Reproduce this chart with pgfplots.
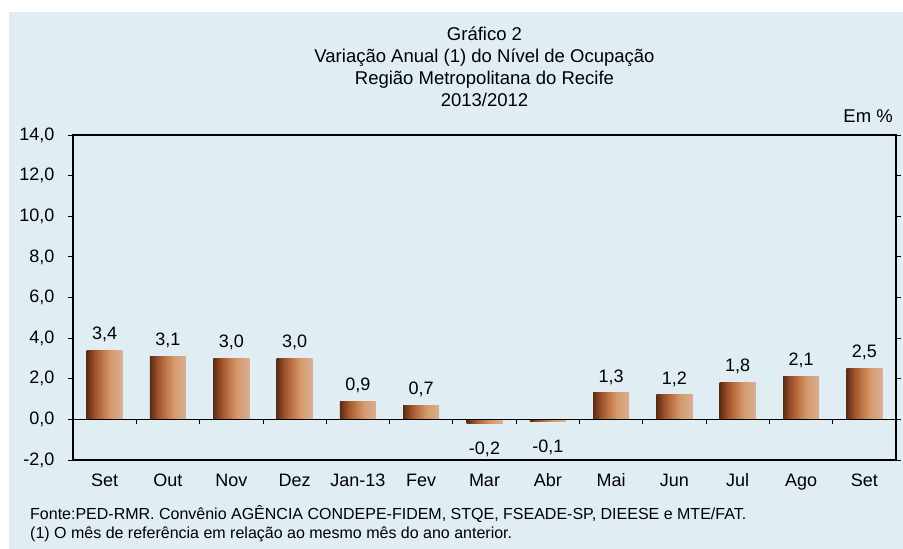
\documentclass[border=0pt]{standalone}
\usepackage{fontspec}
\setmainfont{Liberation Sans}
\usepackage{pgfplots}
\pgfplotsset{compat=1.18}
\definecolor{bg}{RGB}{224,237,243}
\definecolor{bA}{RGB}{90,44,20}
\definecolor{bB}{RGB}{160,82,42}
\definecolor{bC}{RGB}{192,118,72}
\definecolor{bD}{RGB}{212,155,108}
\definecolor{bE}{RGB}{218,174,150}
\pgfdeclarehorizontalshading{barshade}{100bp}{color(0bp)=(bA); color(25bp)=(bA); color(36bp)=(bB); color(47bp)=(bC); color(58bp)=(bD); color(75bp)=(bE); color(100bp)=(bE)}
\pgfplotsset{
  posbar/.style={draw=none, shade, shading=barshade, every node near coord/.append style={yshift=5pt}},
  negbar/.style={draw=none, shade, shading=barshade, every node near coord/.append style={yshift=-15pt}},
}
\begin{document}
\begin{tikzpicture}[x=1pt,y=1pt]
\fill[white] (0,0) rectangle (903,549);
\fill[bg] (9,0) rectangle (903,537);
\begin{scope}[font=\fontsize{18.5}{22}\selectfont]
\node[anchor=base, inner sep=0] at (484.5,508) {Gráfico 2};
\node[anchor=base, inner sep=0] at (484.5,486) {Variação Anual (1) do Nível de Ocupação};
\node[anchor=base, inner sep=0] at (484.5,464) {Região Metropolitana do Recife};
\node[anchor=base, inner sep=0] at (484.5,442) {2013/2012};
\node[anchor=base east, inner sep=0] at (893,426) {Em \%};
\end{scope}
\begin{scope}[font=\fontsize{16}{19}\selectfont]
\node[anchor=base west, inner sep=0] at (30,29) {Fonte:PED-RMR. Convênio AGÊNCIA CONDEPE-FIDEM, STQE, FSEADE-SP, DIEESE e MTE/FAT.};
\node[anchor=base west, inner sep=0] at (30,10) {(1) O mês de referência em relação ao mesmo mês do ano anterior.};
\end{scope}
\begin{axis}[
  at={(73pt,89pt)}, anchor=south west,
  width=823pt, height=325pt, scale only axis,
  xmin=-0.5, xmax=12.5, ymin=-2, ymax=14,
  ytick={-2,0,...,14},
  xtick={0,...,12},
  xticklabels={Set,Out,Nov,Dez,Jan-13,Fev,Mar,Abr,Mai,Jun,Jul,Ago,Set},
  x tick style={draw=none},
  y tick style={draw=black, line width=0.8pt},
  tick align=outside, major tick length=5pt,
  axis line style={line width=1.8pt},
  /pgf/number format/assume math mode=true,
  tick label style={font=\fontsize{18}{21}\selectfont},
  yticklabel style={xshift=-10pt, /pgf/number format/fixed, /pgf/number format/fixed zerofill, /pgf/number format/precision=1, /pgf/number format/use comma},
  xticklabel style={text height=0.72em, text depth=0.2em, yshift=-11pt},
  clip=false,
  ybar, bar width=36pt, bar shift=0pt,
  nodes near coords,
  every node near coord/.append style={font=\fontsize{18}{21}\selectfont, black, /pgf/number format/fixed, /pgf/number format/fixed zerofill, /pgf/number format/precision=1, /pgf/number format/use comma},
]
\addplot[posbar] coordinates {(0,3.4)};
\addplot[posbar] coordinates {(1,3.1)};
\addplot[posbar] coordinates {(2,3.0)};
\addplot[posbar] coordinates {(3,3.0)};
\addplot[posbar] coordinates {(4,0.9)};
\addplot[posbar] coordinates {(5,0.7)};
\addplot[negbar] coordinates {(6,-0.2)};
\addplot[negbar] coordinates {(7,-0.1)};
\addplot[posbar] coordinates {(8,1.3)};
\addplot[posbar] coordinates {(9,1.2)};
\addplot[posbar] coordinates {(10,1.8)};
\addplot[posbar] coordinates {(11,2.1)};
\addplot[posbar] coordinates {(12,2.5)};
\draw[line width=1pt, black] (axis cs:-0.5,0) -- (axis cs:12.5,0);
\pgfplotsinvokeforeach{0.5,1.5,2.5,3.5,4.5,5.5,6.5,7.5,8.5,9.5,10.5,11.5}{
  \draw[line width=0.8pt, black] (axis cs:#1,0) -- ++(0pt,-5pt);
}
\end{axis}
\end{tikzpicture}
\end{document}
